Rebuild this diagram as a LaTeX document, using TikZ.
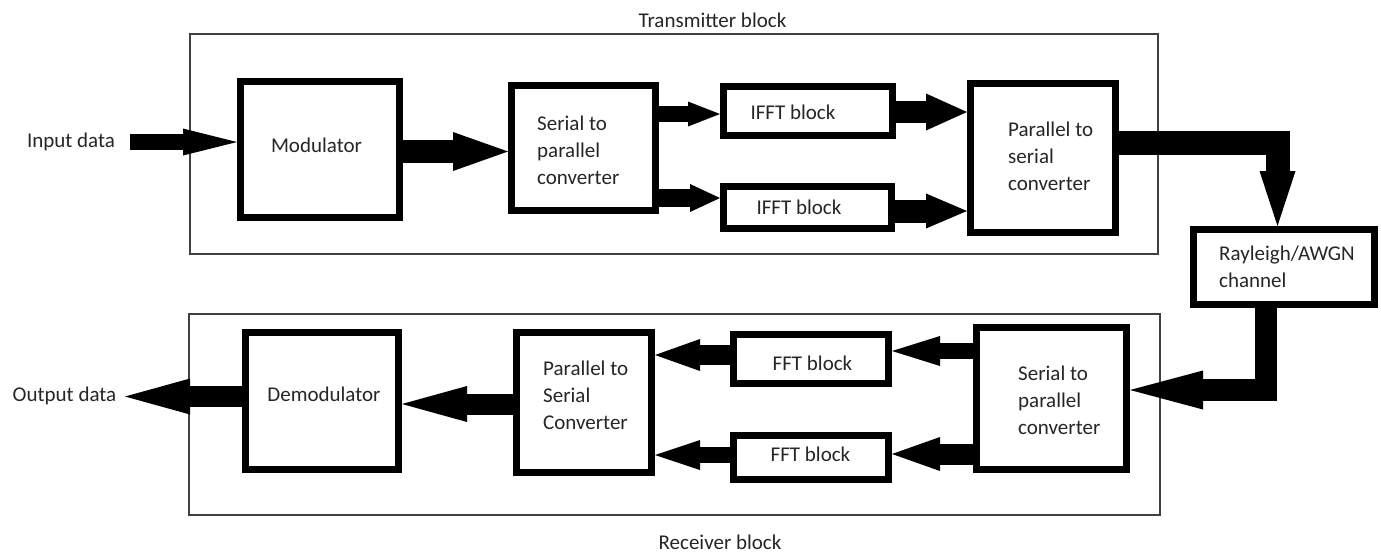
\documentclass[tikz,border=0pt]{standalone}
\usepackage{fontspec}
\setmainfont{Carlito}
\usetikzlibrary{arrows.meta}
\tikzset{
  blk/.style={draw=black, line width=7pt, fill=white, inner sep=0pt},
  frame/.style={draw=black!75, line width=1.3pt},
  txt/.style={inner sep=0pt, text=black!85, font=\fontsize{21}{27}\selectfont},
  mtxt/.style={txt, align=left, anchor=west},
  fat/.style n args={3}{line width=#1, line join=miter,
     -{Triangle[width=#2, length=#3, line width=0pt]}},
}
\begin{document}
\begin{tikzpicture}[x=1pt,y=-1pt]
\fill[white] (0,0) rectangle (1381,552);
\useasboundingbox (0,0) rectangle (1381,552);

% outer frames
\draw[frame] (190,34) rectangle (1158,254);
\draw[frame] (189,314) rectangle (1160,515);
\node[txt] (ttl) at (712.5,20) {Transmitter block};
\node[txt] (rtl) at (720,542) {Receiver block};

% blocks
\node[blk, minimum width=159pt, minimum height=136pt] (mod) at (320,149.5) {};
\node[blk, minimum width=144pt, minimum height=125pt] (sp) at (583.5,148) {};
\node[blk, minimum width=169pt, minimum height=49pt] (ifftA) at (808,111) {};
\node[blk, minimum width=168pt, minimum height=42pt] (ifftB) at (807.5,207.5) {};
\node[blk, minimum width=145pt, minimum height=149pt] (ps) at (1043,158) {};
\node[blk, minimum width=181pt, minimum height=75pt] (ch) at (1284,267) {};
\node[blk, minimum width=150pt, minimum height=142pt] (spr) at (1051.5,398.5) {};
\node[blk, minimum width=155pt, minimum height=49pt] (fftA) at (811,359) {};
\node[blk, minimum width=155pt, minimum height=44pt] (fftB) at (811,457.5) {};
\node[blk, minimum width=135pt, minimum height=140pt] (psr) at (584,402.5) {};
\node[blk, minimum width=153pt, minimum height=137pt] (dem) at (322,401) {};

% texts
\node[txt] (tmod) at (316.5,145) {Modulator};
\node[mtxt] (tsp) at (537,150) {Serial to\\parallel\\converter};
\node[txt] (tifftA) at (793,112) {IFFT block};
\node[txt] (tifftB) at (799,207) {IFFT block};
\node[mtxt] (tps) at (1008,156) {Parallel to\\serial\\converter};
\node[txt, align=left, anchor=north west] (tch) at (1219,246) {Rayleigh/AWGN\\channel};
\node[mtxt] (tspr) at (1018,400) {Serial to\\parallel\\converter};
\node[txt] (tfftA) at (812.5,363) {FFT block};
\node[txt] (tfftB) at (810.5,454) {FFT block};
\node[mtxt] (tpsr) at (543,395) {Parallel to\\Serial\\Converter};
\node[txt] (tdem) at (324,394) {Demodulator};
\node[txt] (tin) at (71,142) {Input data};
\node[txt] (tout) at (64.5,396) {Output data};

\coordinate (inS) at (130,142);
\coordinate (outE) at (125,396.5);

% transmitter arrows
\draw[fat={16pt}{27pt}{54pt}] (inS) -- (mod.west |- inS);
\draw[fat={23pt}{39pt}{55pt}] (mod.east |- 0,151.5) -- (sp.west |- 0,151.5);
\draw[fat={16pt}{25pt}{32pt}] (sp.east |- 0,114) -- (ifftA.west |- 0,114);
\draw[fat={18pt}{28pt}{30pt}] (sp.east |- 0,198) -- (ifftB.west |- 0,198);
\draw[fat={22pt}{37pt}{41pt}] (ifftA.east |- 0,112) -- (ps.west |- 0,112);
\draw[fat={23pt}{35pt}{41pt}] (ifftB.east |- 0,211) -- (ps.west |- 0,211);
\draw[fat={24pt}{36pt}{55pt}] (ps.east |- 0,143) -| (ch.north -| 1277.5,0);

% channel to receiver
\draw[fat={22pt}{39pt}{73pt}] (ch.south -| 1265.5,0) |- (spr.east |- 0,390);

% receiver arrows
\draw[fat={16pt}{30pt}{48pt}] (spr.west |- 0,351) -- (fftA.east |- 0,351);
\draw[fat={21pt}{34pt}{48pt}] (spr.west |- 0,454) -- (fftB.east |- 0,454);
\draw[fat={20pt}{32pt}{45pt}] (fftA.west |- 0,355) -- (psr.east |- 0,355);
\draw[fat={16pt}{30pt}{45pt}] (fftB.west |- 0,455) -- (psr.east |- 0,455);
\draw[fat={21pt}{36pt}{65pt}] (psr.west |- 0,404) -- (dem.east |- 0,404);
\draw[fat={21pt}{36pt}{65pt}] (dem.west |- outE) -- (outE);
\end{tikzpicture}
\end{document}
